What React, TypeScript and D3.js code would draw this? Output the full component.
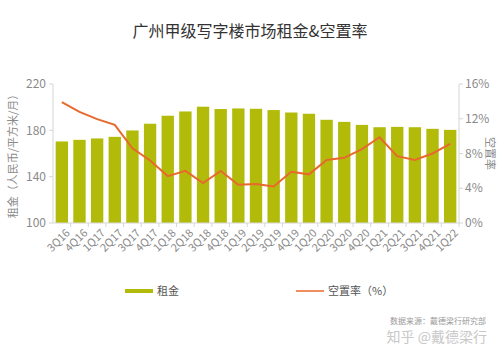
import React from "react";
import * as d3 from "d3";

const categories = ["3Q16","4Q16","1Q17","2Q17","3Q17","4Q17","1Q18","2Q18","3Q18","4Q18","1Q19","2Q19","3Q19","4Q19","1Q20","2Q20","3Q20","4Q20","1Q21","2Q21","3Q21","4Q21","1Q22"];
const rent = [170.4,171.8,173,174.4,179.9,185.7,192.6,196.3,200.4,198.4,198.9,198.6,197.5,195.4,194.3,189.1,187.3,184.7,182.7,183,182.7,181.3,180.4];
const vacancy = [13.9,12.8,11.95,11.3,8.6,7.2,5.4,6.0,4.6,6.0,4.4,4.5,4.2,5.9,5.6,7.25,7.5,8.5,9.87,7.7,7.25,8.0,9.1];
const leftTicks = [100,140,180,220];
const rightTicks = [0,4,8,12,16];

const W = 500, H = 358;
const left = 53, right = 459, top = 84, bottom = 223;
const font = "'Noto Sans CJK SC', 'Noto Sans', sans-serif";
const green = "#b3bb0a";
const orange = "#e8692c";
const axisColor = "#d6d6d6";
const tickText = "#8a8a8a";

export default function App() {
  const x = d3.scaleBand<string>().domain(categories).range([left, right]).paddingInner(0.3).paddingOuter(0.15);
  const yL = d3.scaleLinear().domain([100, 220]).range([bottom, top]);
  const yR = d3.scaleLinear().domain([0, 16]).range([bottom, top]);
  const line = d3.line<number>()
    .x((_, i) => (x(categories[i]) as number) + x.bandwidth() / 2)
    .y((d) => yR(d));

  return (
    <svg width={W} height={H} style={{ position: "absolute", left: 0, top: 0, background: "#fff" }} fontFamily={font}>
      <text x={250} y={37} textAnchor="middle" fontSize={16} fill="#333">广州甲级写字楼市场租金&amp;空置率</text>

      {categories.map((c, i) => (
        <rect key={c} x={x(c)} y={yL(rent[i])} width={x.bandwidth()} height={bottom - yL(rent[i])} fill={green} />
      ))}
      <path d={line(vacancy) || ""} fill="none" stroke={orange} strokeWidth={2} />

      {/* left axis */}
      <line x1={left} x2={left} y1={top} y2={bottom} stroke={axisColor} />
      {leftTicks.map((t) => (
        <g key={t}>
          <line x1={left - 4} x2={left} y1={yL(t)} y2={yL(t)} stroke={axisColor} />
          <text x={left - 7} y={yL(t)} dy="0.35em" textAnchor="end" fontSize={12} fill={tickText}>{t}</text>
        </g>
      ))}
      {/* right axis */}
      <line x1={right} x2={right} y1={top} y2={bottom} stroke={axisColor} />
      {rightTicks.map((t) => (
        <g key={t}>
          <line x1={right} x2={right + 4} y1={yR(t)} y2={yR(t)} stroke={axisColor} />
          <text x={right + 6} y={yR(t)} dy="0.35em" textAnchor="start" fontSize={12} fill={tickText}>{t}%</text>
        </g>
      ))}
      {/* bottom axis */}
      <line x1={left} x2={right} y1={bottom} y2={bottom} stroke={axisColor} />
      {categories.map((c) => {
        const cx = (x(c) as number) + x.bandwidth() / 2;
        return (
          <g key={c}>
            <line x1={cx + x.step() / 2} x2={cx + x.step() / 2} y1={bottom} y2={bottom + 4} stroke={axisColor} />
            <text transform={`translate(${cx + 6},${bottom + 8}) rotate(-45)`} textAnchor="end" dy="0.35em" fontSize={11} fill={tickText}>{c}</text>
          </g>
        );
      })}

      <text transform={`translate(13,${(top + bottom) / 2}) rotate(-90)`} textAnchor="middle" dy="0.35em" fontSize={11} fill={tickText}>租金（人民币/平方米/月）</text>
      <text transform={`translate(490,${(top + bottom) / 2}) rotate(90)`} textAnchor="middle" dy="0.35em" fontSize={11} fill={tickText}>空置率</text>

      {/* legend */}
      <line x1={125} x2={153} y1={291} y2={291} stroke={green} strokeWidth={4} />
      <text x={157} y={291} dy="0.35em" fontSize={11} fill="#555">租金</text>
      <line x1={296} x2={324} y1={291} y2={291} stroke={orange} strokeWidth={1.5} />
      <text x={328} y={291} dy="0.35em" fontSize={11} fill="#555">空置率（%）</text>

      <text x={486} y={324} textAnchor="end" fontSize={8} fill="#999">数据来源：戴德梁行研究部</text>
      <text x={487} y={342} textAnchor="end" fontSize={14} fill="#c8c8c8">知乎 @戴德梁行</text>
    </svg>
  );
}
